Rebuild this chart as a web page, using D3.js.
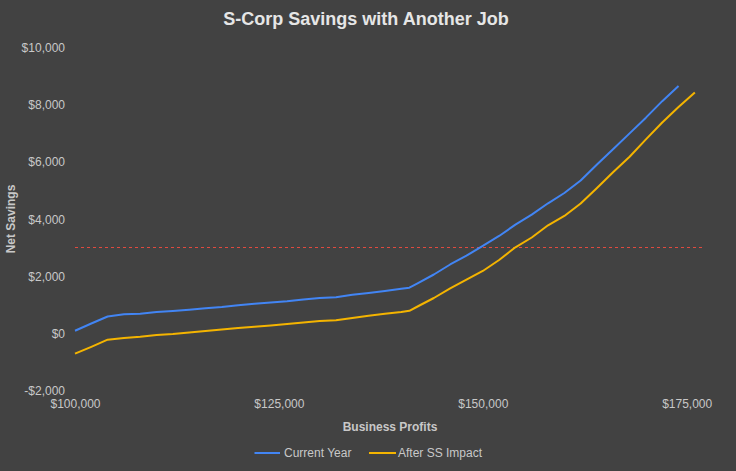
<!DOCTYPE html>
<html>
<head>
<meta charset="utf-8">
<script src="https://cdn.jsdelivr.net/npm/d3@7"></script>
<style>
  html, body { margin: 0; padding: 0; background: #424242; }
  svg { display: block; }
</style>
</head>
<body>
<svg id="chart" width="736" height="471"></svg>
<script>
// ---- Data ----
const profits = [100000,102000,104000,106000,108000,110000,112000,114000,116000,118000,120000,122000,124000,126000,128000,130000,132000,134000,136000,138000,140000,141000,142000,144000,146000,148000,150000,152000,154000,156000,158000,160000,162000,164000,166000,168000,170000,172000,174000,176000];
const currentYear = [90,343,587,664,685,745,780,825,874,920,983,1032,1077,1119,1182,1234,1259,1350,1409,1479,1560,1595,1748,2056,2406,2714,3053,3403,3798,4148,4546,4906,5343,5903,6445,6990,7540,8117,8650,null];
const afterSS = [-713,-472,-224,-164,-119,-59,-24,31,84,133,185,227,273,325,378,430,455,535,615,682,745,787,937,1234,1567,1874,2179,2563,3007,3350,3777,4102,4539,5081,5641,6172,6780,7372,7914,8421];
const seriesNames = ["Current Year", "After SS Impact"];
const xTicks = [100000,125000,150000,175000];
const yTicks = [-2000,0,2000,4000,6000,8000,10000];
const targetLine = 3000;
const xDomain = [100000, 177000];
const yDomain = [-2000, 10000];

// ---- Layout ----
const svg = d3.select("#chart");
const colors = ["#4285f4", "#f4b400"];
const textColor = "#c8c8c8";
const font = "'Liberation Sans', Arial, sans-serif";

const x = d3.scaleLinear().domain(xDomain).range([75, 703]);
const y = d3.scaleLinear().domain(yDomain).range([390.5, 47.3]);

// Title
svg.append("text")
  .attr("x", 366).attr("y", 25)
  .attr("text-anchor", "middle")
  .attr("font-family", font).attr("font-size", 18).attr("font-weight", "bold")
  .attr("fill", "#e6e6e6")
  .text("S-Corp Savings with Another Job");

// Y axis
const yAxis = d3.axisLeft(y).tickValues(yTicks).tickSize(0).tickPadding(0)
  .tickFormat(d => (d < 0 ? "-$" : "$") + d3.format(",")(Math.abs(d)));
const gy = svg.append("g").attr("transform", "translate(65,0)").call(yAxis);
gy.select(".domain").remove();
gy.selectAll("text").attr("font-family", font).attr("font-size", 12).attr("fill", textColor).attr("dy", "0.35em");

// X axis
const xAxis = d3.axisBottom(x).tickValues(xTicks).tickSize(0).tickPadding(0)
  .tickFormat(d => "$" + d3.format(",")(d));
const gx = svg.append("g").attr("transform", "translate(0,399)").call(xAxis);
gx.select(".domain").remove();
gx.selectAll("text").attr("font-family", font).attr("font-size", 12).attr("fill", textColor).attr("dy", "0.71em");

// Axis titles
svg.append("text")
  .attr("x", 390).attr("y", 431)
  .attr("text-anchor", "middle")
  .attr("font-family", font).attr("font-size", 12).attr("font-weight", "bold")
  .attr("fill", textColor)
  .text("Business Profits");

svg.append("text")
  .attr("transform", "translate(15,219) rotate(-90)")
  .attr("text-anchor", "middle")
  .attr("font-family", font).attr("font-size", 12).attr("font-weight", "bold")
  .attr("fill", textColor)
  .text("Net Savings");

// Target dashed line
svg.append("line")
  .attr("x1", x(xDomain[0])).attr("x2", x(xDomain[1]))
  .attr("y1", y(targetLine)).attr("y2", y(targetLine))
  .attr("stroke", "#e04a3f").attr("stroke-width", 1)
  .attr("stroke-dasharray", "3,3");

// Lines
const series = [currentYear, afterSS];
const line = d3.line()
  .defined(d => d[1] !== null)
  .x(d => x(d[0])).y(d => y(d[1]));
series.forEach((vals, i) => {
  svg.append("path")
    .datum(profits.map((p, j) => [p, vals[j]]))
    .attr("fill", "none")
    .attr("stroke", colors[i])
    .attr("stroke-width", 2)
    .attr("stroke-linejoin", "round")
    .attr("d", line);
});

// Legend
const legendItems = [
  { x1: 254.5, x2: 280, tx: 284 },
  { x1: 369, x2: 396, tx: 398 }
];
legendItems.forEach((it, i) => {
  svg.append("line")
    .attr("x1", it.x1).attr("x2", it.x2)
    .attr("y1", 453).attr("y2", 453)
    .attr("stroke", colors[i]).attr("stroke-width", 2);
  svg.append("text")
    .attr("x", it.tx).attr("y", 453).attr("dy", "0.35em")
    .attr("font-family", font).attr("font-size", 12)
    .attr("fill", textColor)
    .text(seriesNames[i]);
});
</script>
</body>
</html>
